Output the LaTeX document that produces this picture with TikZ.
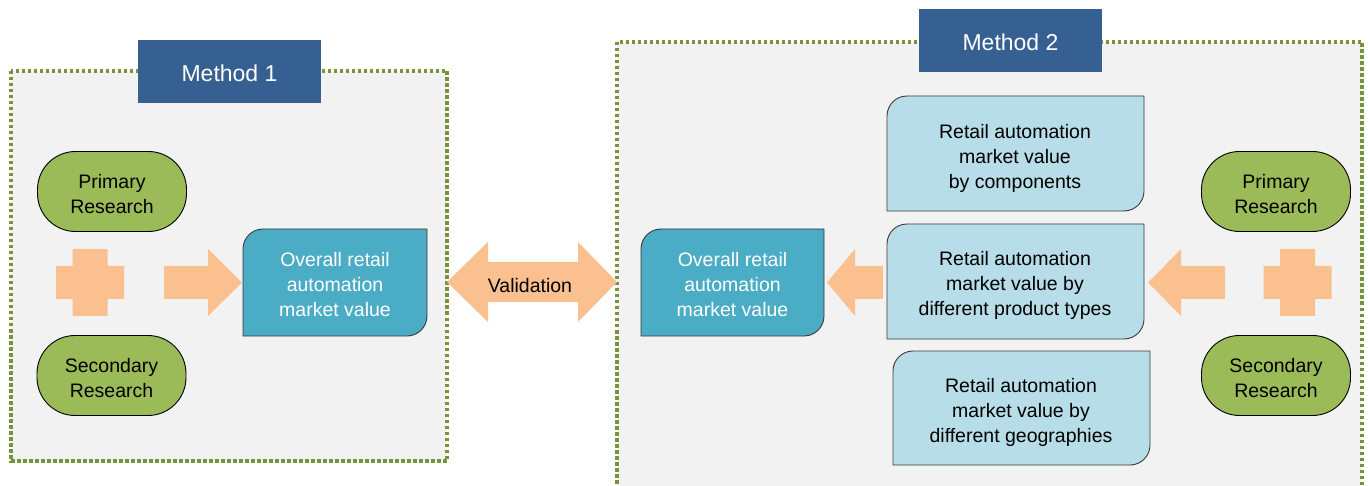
\documentclass[tikz,border=0pt]{standalone}
\usepackage{fontspec}
\setmainfont{Liberation Sans}
\definecolor{dotgreen}{HTML}{77933C}
\definecolor{hdrblue}{HTML}{376092}
\definecolor{capgreen}{HTML}{9BBB59}
\definecolor{arrorange}{HTML}{FAC090}
\definecolor{ovblue}{HTML}{4BACC6}
\definecolor{ltblue}{HTML}{B7DEE8}
\definecolor{bggray}{HTML}{F2F2F2}
\definecolor{edgegray}{HTML}{3A3A3A}
% one-corner-rounded box: x1 y1 x2 y2 r style
\newcommand\myobox[6]{%
  \path[#6] ({#1},{#4}) -- ({#1},{#2+#5}) .. controls ({#1},{#2+0.448*#5}) and ({#1+0.448*#5},{#2}) .. ({#1+#5},{#2})
    -- ({#3},{#2}) -- ({#3},{#4-#5}) .. controls ({#3},{#4-0.448*#5}) and ({#3-0.448*#5},{#4}) .. ({#3-#5},{#4}) -- cycle;}
% plus sign: cx cy
\newcommand\myplus[2]{%
  \fill[arrorange] ({#1-17.5},{#2-33.5}) -- ({#1+17.5},{#2-33.5}) -- ({#1+17.5},{#2-16.5}) -- ({#1+34},{#2-16.5})
    -- ({#1+34},{#2+16.5}) -- ({#1+17.5},{#2+16.5}) -- ({#1+17.5},{#2+33.5}) -- ({#1-17.5},{#2+33.5})
    -- ({#1-17.5},{#2+16.5}) -- ({#1-34},{#2+16.5}) -- ({#1-34},{#2-16.5}) -- ({#1-17.5},{#2-16.5}) -- cycle;}
\tikzset{
  txt/.style={font=\fontsize{19.5}{25}\selectfont, align=center, inner sep=0pt, text=black},
  wtxt/.style={txt, text=white},
  hdr/.style={fill=hdrblue, text=white, font=\fontsize{23}{27}\selectfont, inner sep=0pt},
  capsule/.style={draw=black, line width=0.9pt, fill=capgreen, rounded corners=38pt, minimum width=149pt, minimum height=80pt},
  frame/.style={fill=bggray, draw=dotgreen, line width=3.5pt, dash pattern=on 3.5pt off 2.5pt},
  ovbox/.style={fill=ovblue, draw=edgegray, line width=0.9pt},
  ltbox/.style={fill=ltblue, draw=edgegray, line width=0.9pt},
}
\begin{document}
\begin{tikzpicture}[x=1pt,y=-1pt]
\useasboundingbox (0,0) rectangle (1368,486);
\fill[white] (0,0) rectangle (1368,486);
\begin{scope}
\clip (0,0) rectangle (1368,486);
% frames
\path[frame] (11,71) rectangle (447,461);
\path[frame] (617,42) rectangle (1362,500);
% headers
\node[hdr, minimum width=183pt, minimum height=63pt] (m1) at (229.5,71.5) {};
\node[hdr, text=white] (m1t) at (229.5,73.5) {Method 1};
\node[hdr, minimum width=183pt, minimum height=63pt] (m2) at (1010.5,40.5) {};
\node[hdr, text=white] (m2t) at (1010.5,42.5) {Method 2};
% left method
\node[capsule] (pr1) at (112,191.5) {};
\node[txt] (pr1t) at (112,194) {Primary\\Research};
\node[capsule] (sr1) at (111.5,375.5) {};
\node[txt] (sr1t) at (111.5,378) {Secondary\\Research};
\myplus{90}{282.5}
\fill[arrorange] (164,266) -- (208,266) -- (208,249) -- (242,282.5) -- (208,316) -- (208,299) -- (164,299) -- cycle;
\myobox{243}{229}{427}{336}{20}{ovbox}
\node[wtxt] (ov1) at (335,285) {Overall retail\\automation\\market value};
% validation
\fill[arrorange] (447,282) -- (488,242) -- (488,262) -- (578,262) -- (578,242) -- (617,282) -- (578,322) -- (578,302) -- (488,302) -- (488,322) -- cycle;
\node[txt] (val) at (530,285.5) {Validation};
% right method
\myobox{641}{229}{824}{336}{20}{ovbox}
\node[wtxt] (ov2) at (732.5,285) {Overall retail\\automation\\market value};
\fill[arrorange] (883,266) -- (855,266) -- (855,249) -- (827,282.5) -- (855,316) -- (855,299) -- (883,299) -- cycle;
\myobox{887}{96}{1144}{211}{20}{ltbox}
\node[txt] (ba) at (1015,158) {Retail automation\\market value\\by components};
\myobox{887}{224}{1144}{339}{20}{ltbox}
\node[txt] (bb) at (1015,285) {Retail automation\\market value by\\different product types};
\myobox{893}{351}{1150}{465}{20}{ltbox}
\node[txt] (bc) at (1021,412) {Retail automation\\market value by\\different geographies};
\fill[arrorange] (1225,266) -- (1181,266) -- (1181,249) -- (1148,282.5) -- (1181,316) -- (1181,299) -- (1225,299) -- cycle;
\myplus{1297.5}{282.5}
\node[capsule] (pr2) at (1276,191.5) {};
\node[txt] (pr2t) at (1276,194) {Primary\\Research};
\node[capsule] (sr2) at (1276,375.5) {};
\node[txt] (sr2t) at (1276,378) {Secondary\\Research};
\end{scope}
\end{tikzpicture}
\end{document}
